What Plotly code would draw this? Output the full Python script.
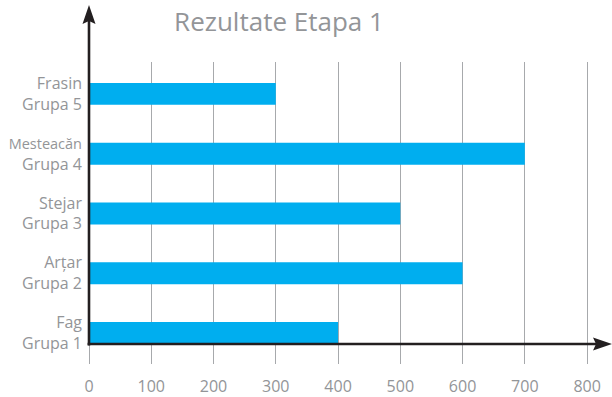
import plotly.graph_objects as go

# Category labels (bottom to top) and scores
groups = ["Fag<br>Grupa 1", "Arțar<br>Grupa 2", "Stejar<br>Grupa 3",
          "<span style='font-size:14.5px'>Mesteacăn</span><br>Grupa 4", "Frasin<br>Grupa 5"]
scores = [400, 600, 500, 700, 300]
x_ticks = [0, 100, 200, 300, 400, 500, 600, 700, 800]

BAR = "#00aeef"
GRID = "#a7a9ac"
TEXT = "#939598"
AXIS = "#231f20"
FONT = "Open Sans, sans-serif"

fig = go.Figure(
    go.Bar(
        x=scores,
        y=groups,
        orientation="h",
        marker=dict(color=BAR, line=dict(width=0)),
        width=0.367,
    )
)

# Axis lines with arrowheads, positioned in pixels from the plot origin
shapes = [
    dict(type="line", xref="paper", yref="paper", xsizemode="pixel", ysizemode="pixel",
         xanchor=0, yanchor=0, x0=0, x1=0, y0=-1.4, y1=324,
         line=dict(color=AXIS, width=2.6), layer="above"),
    dict(type="path", xref="paper", yref="paper", xsizemode="pixel", ysizemode="pixel",
         xanchor=0, yanchor=0, path="M 0,339 L -6.5,320 L 0,323 L 6.5,320 Z",
         fillcolor=AXIS, line=dict(width=0), layer="above"),
    dict(type="line", xref="paper", yref="paper", xsizemode="pixel", ysizemode="pixel",
         xanchor=0, yanchor=0, x0=-1.4, x1=510, y0=0, y1=0,
         line=dict(color=AXIS, width=2.6), layer="above"),
    dict(type="path", xref="paper", yref="paper", xsizemode="pixel", ysizemode="pixel",
         xanchor=0, yanchor=0, path="M 523,0 L 504,6.5 L 507,0 L 504,-6.5 Z",
         fillcolor=AXIS, line=dict(width=0), layer="above"),
]

fig.update_layout(
    width=612,
    height=397,
    margin=dict(l=89, r=0, t=62, b=51),
    paper_bgcolor="white",
    plot_bgcolor="white",
    showlegend=False,
    font=dict(family=FONT, color=TEXT, size=16),
    title=dict(
        text="Rezultate Etapa 1",
        x=279 / 612, xanchor="center",
        y=1 - 22 / 397, yanchor="middle",
        font=dict(family=FONT, size=26, color=TEXT),
    ),
    xaxis=dict(
        range=[0, 840],
        tickvals=x_ticks,
        showgrid=True,
        gridcolor=GRID,
        gridwidth=1,
        zeroline=False,
        showline=False,
        ticks="outside",
        ticklen=19,
        tickwidth=1,
        tickcolor=GRID,
        ticklabelstandoff=9,
        tickfont=dict(family=FONT, size=16, color=TEXT),
    ),
    yaxis=dict(
        type="category",
        range=[-0.183, 4.533],
        showgrid=False,
        zeroline=False,
        showline=False,
        ticks="",
        ticklabelstandoff=6,
        tickfont=dict(family=FONT, size=16, color=TEXT),
    ),
    shapes=shapes,
)

fig.write_html("out.html")
